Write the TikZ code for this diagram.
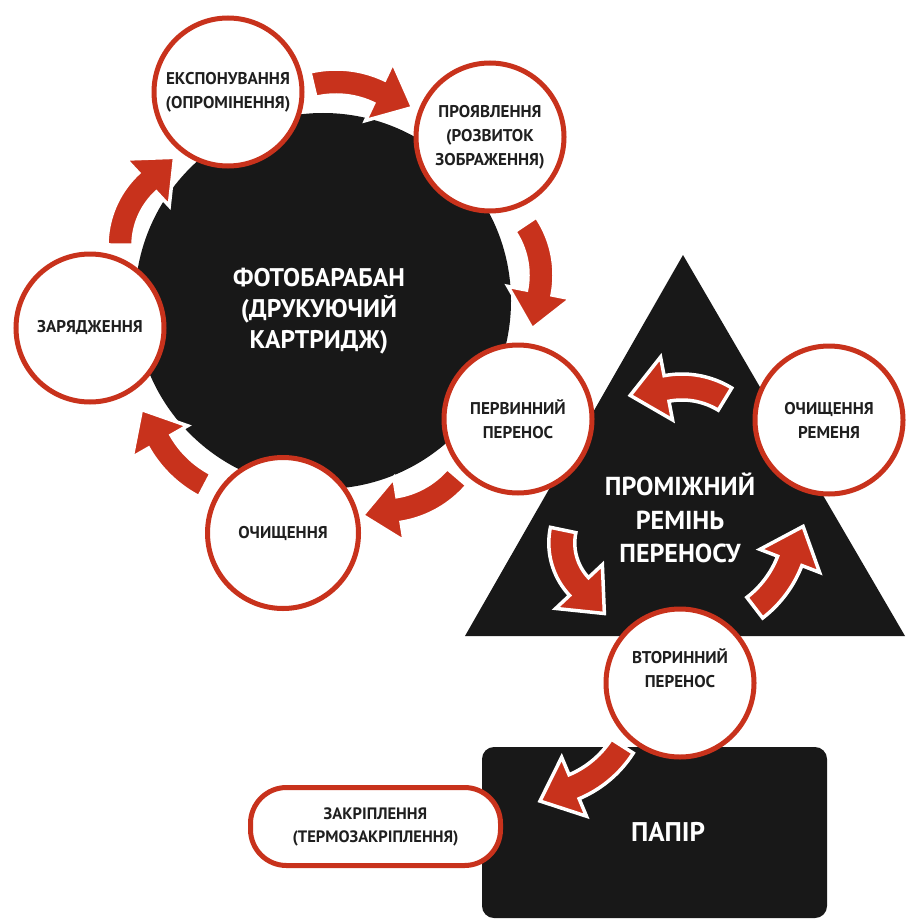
\documentclass[tikz,border=0pt]{standalone}
\usepackage{fontspec}
\setmainfont{PT Sans}
\usetikzlibrary{calc}
\definecolor{myred}{RGB}{200,50,28}
\definecolor{myblack}{RGB}{24,24,24}
\newcommand\blockarrow[6]{%
 \fill[myred, draw=white, line width=3.5pt, line join=miter]
   plot[domain=#4:#5, samples=30] ({#1+(#3+13)*cos(\x)},{#2+(#3+13)*sin(\x)})
   -- ({#1+(#3+32)*cos(#5)},{#2+(#3+32)*sin(#5)})
   -- ({#1+#3*cos(#5)+37*(#6)*(-sin(#5))},{#2+#3*sin(#5)+37*(#6)*cos(#5)})
   -- ({#1+(#3-32)*cos(#5)},{#2+(#3-32)*sin(#5)})
   -- plot[domain=#5:#4, samples=30] ({#1+(#3-13)*cos(\x)},{#2+(#3-13)*sin(\x)})
   -- cycle;}
\tikzset{
  stage/.style={circle, draw=myred, line width=5pt, fill=white, minimum size=148pt,
    inner sep=0pt, align=center, text=black!88,
    font=\bfseries\fontsize{17}{24}\selectfont},
  bigtext/.style={align=center, text=white, font=\bfseries\fontsize{25.5}{31}\selectfont},
}
\begin{document}
\begin{tikzpicture}[x=1pt,y=-1pt]
\fill[white] (0,0) rectangle (918,920);
\useasboundingbox (0,0) rectangle (918,920);
% main shapes
\node[circle, fill=myblack, minimum size=376pt, inner sep=0pt] (drum) at (323,301) {};
\node[bigtext] (drumtext) at (319,311) {ФОТОБАРАБАН\\(ДРУКУЮЧИЙ\\КАРТРИДЖ)};
\fill[myblack] (683,255) coordinate (apex) -- (905,636) coordinate (bright) -- (465,636) coordinate (bleft) -- cycle;
\node[bigtext, font=\bfseries\fontsize{26}{33.5}\selectfont] (belt) at (680,518) {ПРОМІЖНИЙ\\РЕМІНЬ\\ПЕРЕНОСУ};
\fill[myblack, rounded corners=12pt] (482,747) rectangle (827,918);
\node[bigtext, font=\bfseries\fontsize{27}{30}\selectfont] (paper) at (668,832) {ПАПІР};
% stages
\node[stage] (zar) at (90,328) {ЗАРЯДЖЕННЯ};
\node[stage] (eksp) at (228,92) {ЕКСПОНУВАННЯ\\(ОПРОМІНЕННЯ)};
\node[stage] (proyav) at (490,137) {ПРОЯВЛЕННЯ\\(РОЗВИТОК\\ЗОБРАЖЕННЯ)};
\node[stage] (perv) at (518,419) {ПЕРВИННИЙ\\ПЕРЕНОС};
\node[stage, minimum size=151pt] (ochys) at (283,533) {ОЧИЩЕННЯ};
\node[stage] (ochrem) at (829,420) {ОЧИЩЕННЯ\\РЕМЕНЯ};
\node[stage] (vtor) at (680,683) {ВТОРИННИЙ\\ПЕРЕНОС\\[6pt]};
\node[draw=myred, line width=5pt, fill=white, rounded corners=36pt, minimum width=250pt,
  minimum height=78pt, align=center, text=black!88,
  font=\bfseries\fontsize{16.5}{23}\selectfont] (zakr) at (375.5,826.5) {ЗАКРІПЛЕННЯ\\(ТЕРМОЗАКРІПЛЕННЯ)};
% arrows around drum
\blockarrow{336}{183}{101}{-103.2}{-64.7}{1}
\blockarrow{450}{275}{91}{-33.9}{11.1}{1}
\blockarrow{383.5}{413.7}{97}{40.7}{80.8}{1}
\blockarrow{257}{386}{112}{117.7}{150.2}{1}
\blockarrow{206}{245.5}{86}{180.3}{227.1}{1}
% arrows around belt
\blockarrow{682}{469.5}{82.5}{-58.6}{-100.8}{-1}
\blockarrow{625.4}{543}{63.6}{191.8}{136.8}{-1}
\blockarrow{689}{522}{108}{52.5}{21.1}{-1}
% to fixing
\blockarrow{533}{689}{106}{32.6}{67.2}{1}
\end{tikzpicture}
\end{document}
